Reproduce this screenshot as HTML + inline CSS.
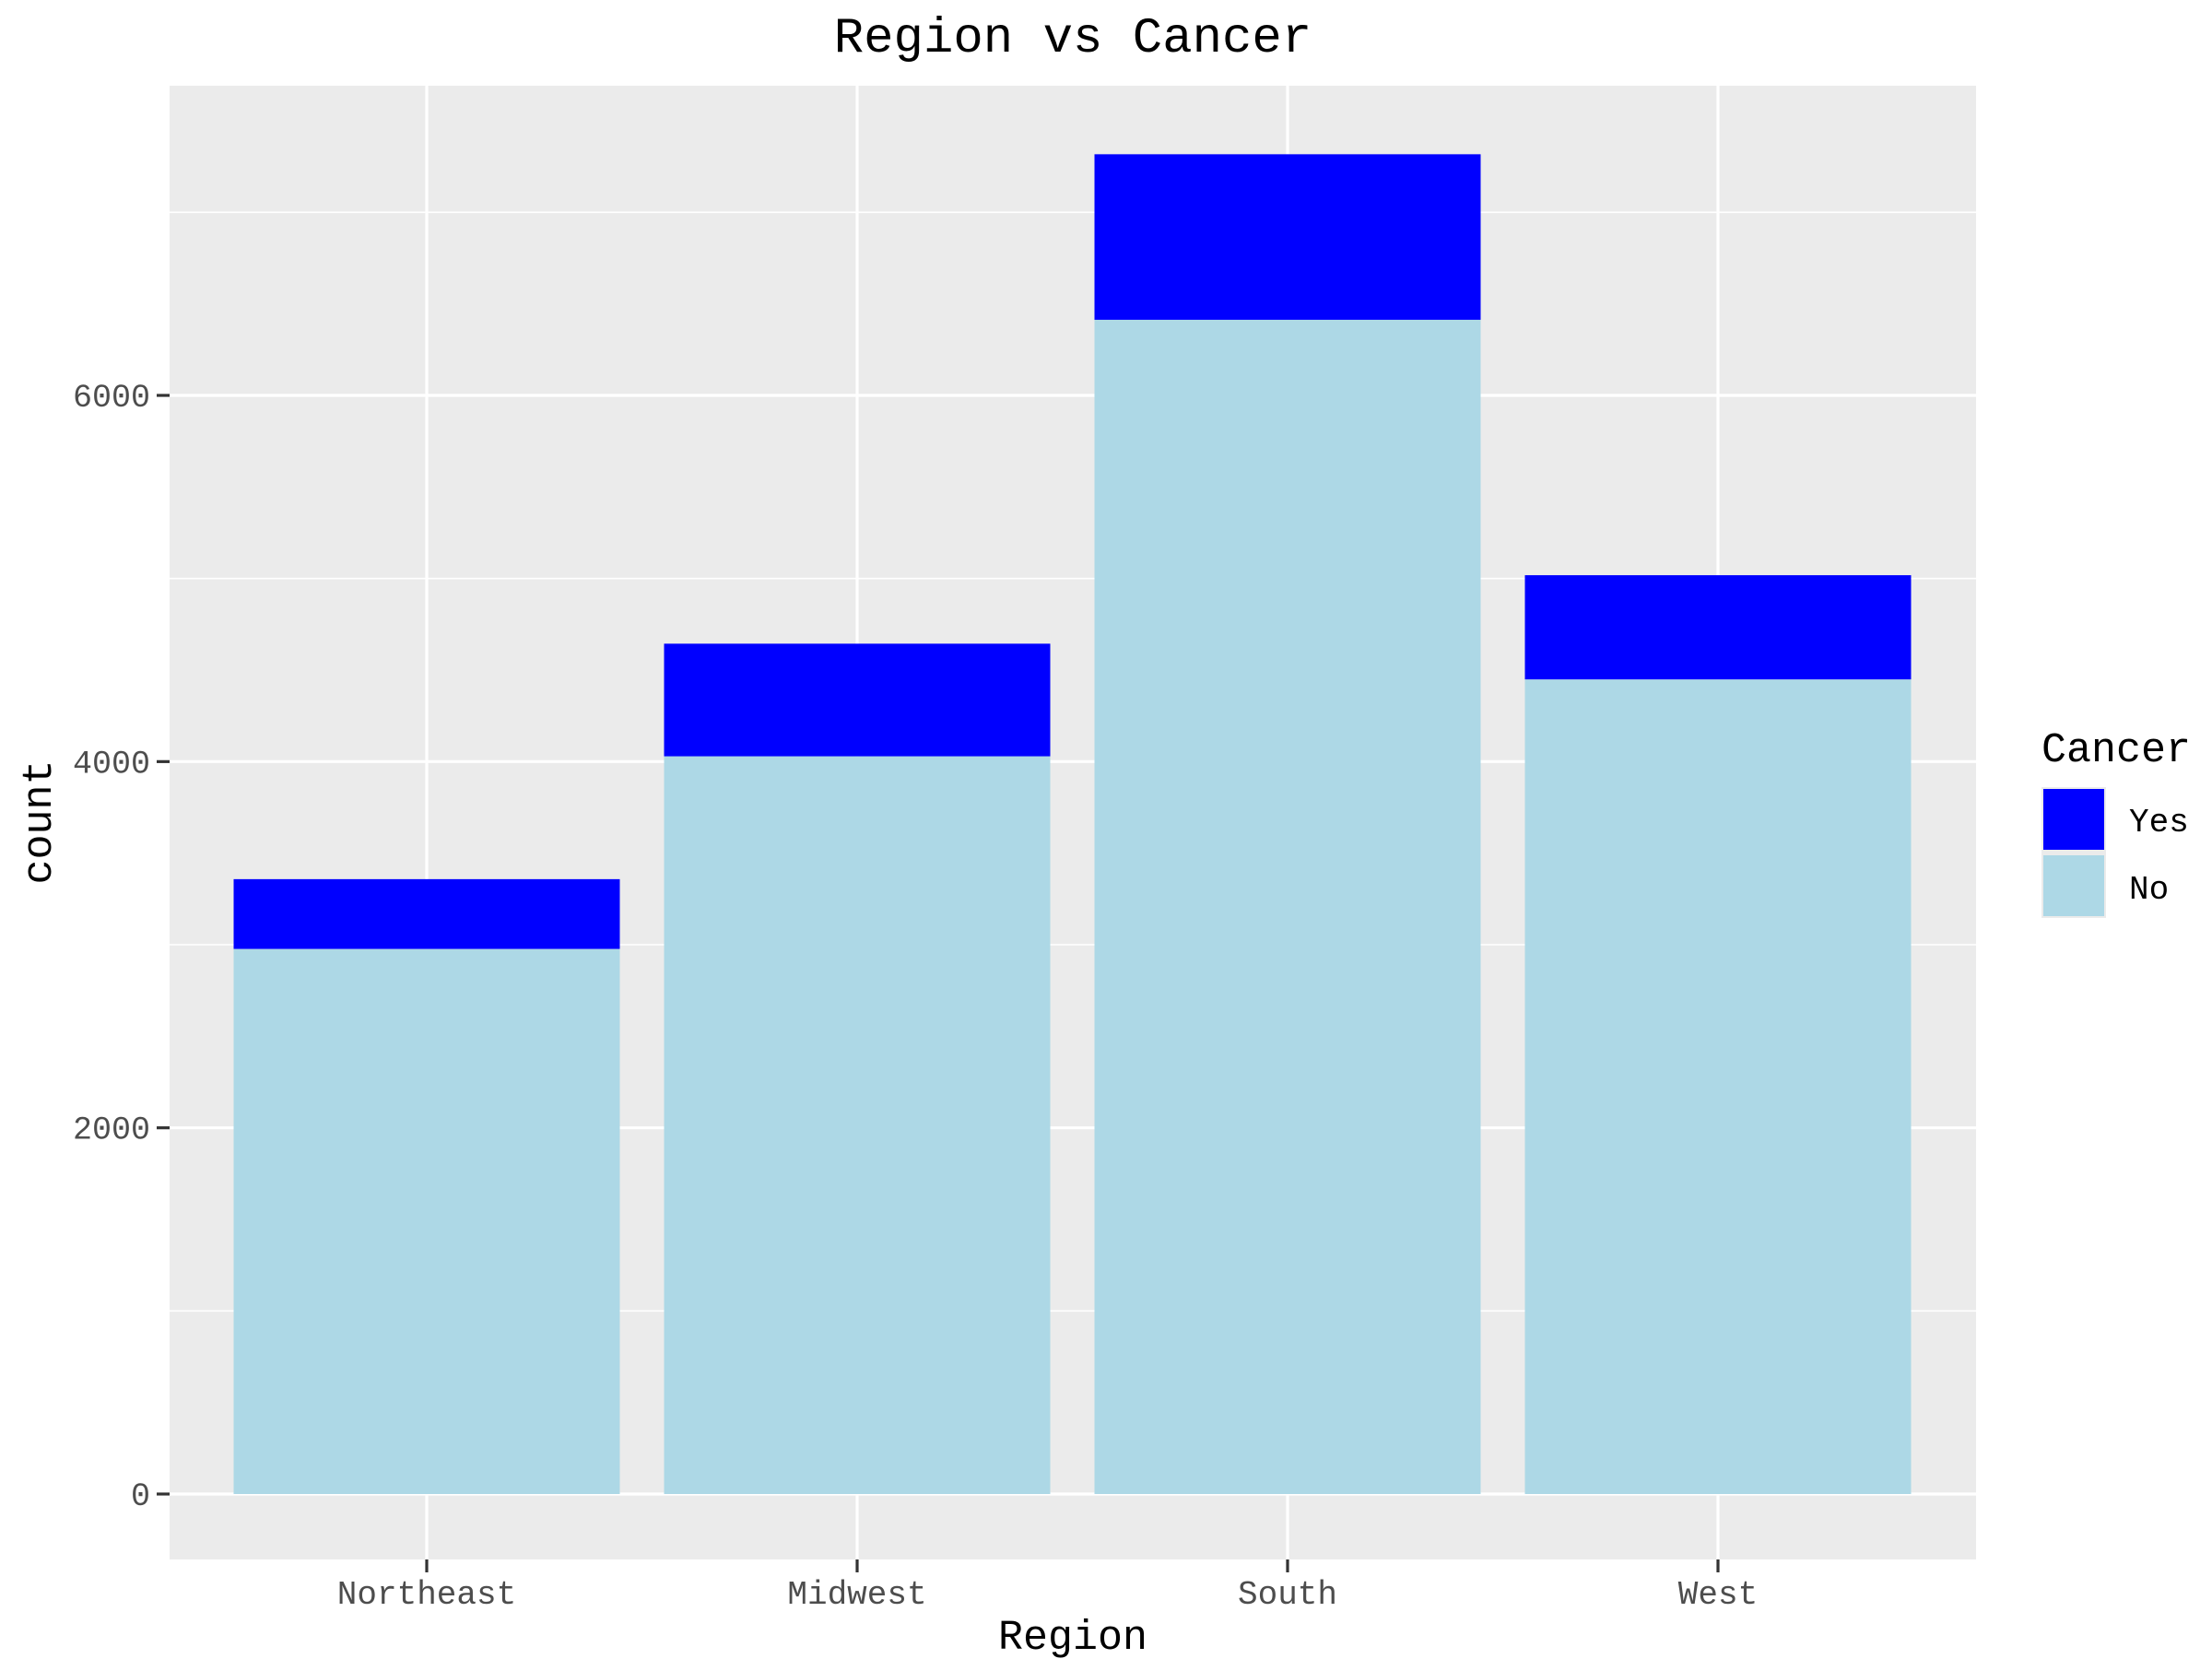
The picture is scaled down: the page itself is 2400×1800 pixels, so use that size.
<!DOCTYPE html>
<html><head><meta charset="utf-8"><style>
html,body{margin:0;padding:0;background:#fff;}
svg{display:block;font-family:"Liberation Mono","DejaVu Sans Mono",monospace;}
</style></head><body>
<svg id="chart" width="2400" height="1800" viewBox="0 0 2400 1800" xmlns="http://www.w3.org/2000/svg">
<rect x="0" y="0" width="2400" height="1800" fill="#fff"/>
<rect x="184" y="93" width="1960" height="1599" fill="#ebebeb"/>
<g id="grid"></g>
<g id="bars"></g>
<g id="axes"></g>
<text x="1164" y="56" font-size="54" text-anchor="middle" fill="#000">Region vs Cancer</text>
<text x="1164" y="1789" font-size="45" text-anchor="middle" fill="#000">Region</text>
<text x="0" y="0" font-size="45" text-anchor="middle" fill="#000" transform="translate(55,892) rotate(-90)">count</text>
<g>
<text x="2215" y="826" font-size="45" fill="#000">Cancer</text>
<rect x="2215" y="854" width="70" height="70" fill="#ebebeb"/>
<rect x="2217" y="856" width="66" height="66" fill="#0000ff"/>
<text x="2310" y="902" font-size="36" fill="#000">Yes</text>
<rect x="2215" y="924" width="70" height="72" fill="#ebebeb"/>
<rect x="2217" y="928" width="66" height="66" fill="#add8e6"/>
<text x="2310" y="975" font-size="36" fill="#000">No</text>
</g>
</svg>
<script>
const categories = ["Northeast","Midwest","South","West"];
const noValues = [2977, 4029, 6413, 4449];
const yesValues = [381, 615, 904, 569];
const yTicks = [0, 2000, 4000, 6000];
const yMinor = [1000, 3000, 5000, 7000];

const NS = "http://www.w3.org/2000/svg";
const panel = {left:184, right:2144, top:93, bottom:1692};
const y0 = 1621, pxPerUnit = (1621 - 429) / 6000;
function yScale(v){ return y0 - v * pxPerUnit; }
const step = 467, firstCenter = 463;
function xScale(i){ return firstCenter + i * step; }
const barW = 419;

function mk(tag, attrs, parent){
  const el = document.createElementNS(NS, tag);
  for (const k in attrs) el.setAttribute(k, attrs[k]);
  parent.appendChild(el);
  return el;
}
const grid = document.getElementById('grid');
const bars = document.getElementById('bars');
const axes = document.getElementById('axes');

yMinor.forEach(v => {
  const l = mk('line', {x1:panel.left, x2:panel.right, y1:yScale(v), y2:yScale(v), stroke:'#fff', 'stroke-width':1.6}, grid);
  
  
});
yTicks.forEach(v => {
  const l = mk('line', {x1:panel.left, x2:panel.right, y1:yScale(v), y2:yScale(v), stroke:'#fff', 'stroke-width':3.2}, grid);
  
  
  const t = mk('line', {x1:170, x2:184, y1:yScale(v), y2:yScale(v), stroke:'#333', 'stroke-width':3.2}, axes);
  
  
  const tx = mk('text', {x:163, y:yScale(v)+12, 'font-size':35, 'text-anchor':'end', fill:'#4d4d4d'}, axes);
  tx.textContent = String(v);
  
  
});
categories.forEach((c, i) => {
  const x = xScale(i);
  const l = mk('line', {x1:x, x2:x, y1:panel.top, y2:panel.bottom, stroke:'#fff', 'stroke-width':3.2}, grid);
  
  
  const t = mk('line', {x1:x, x2:x, y1:panel.bottom, y2:panel.bottom+14, stroke:'#333', 'stroke-width':3.2}, axes);
  
  
  const tx = mk('text', {x:x, y:1740, 'font-size':36, 'text-anchor':'middle', fill:'#4d4d4d'}, axes);
  tx.textContent = c;
  
  

  const no = noValues[i], yes = yesValues[i];
  const bn = mk('rect', {x:x-barW/2, y:yScale(no), width:barW, height:yScale(0)-yScale(no), fill:'#add8e6'}, bars);
  
  
  const by = mk('rect', {x:x-barW/2, y:yScale(no+yes), width:barW, height:yScale(no)-yScale(no+yes), fill:'#0000ff'}, bars);
  
  
});
</script>
</body></html>
